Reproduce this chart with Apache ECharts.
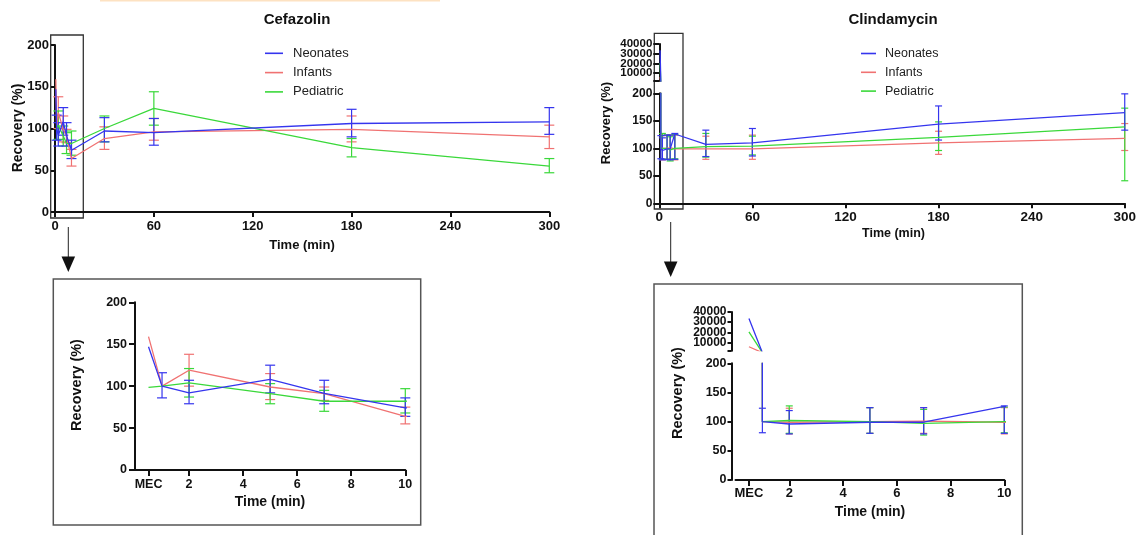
<!DOCTYPE html>
<html>
<head>
<meta charset="utf-8">
<script src="https://cdn.jsdelivr.net/npm/echarts@6/dist/echarts.min.js"></script>
<style>
  html, body { margin: 0; padding: 0; background: #fff; }
  #chart { width: 1139px; height: 535px; }
</style>
</head>
<body>
<div id="chart"></div>
<script>
// 采样时间（min），MEC 在放大图中画在 0.5 处
const TIMES = [0.5, 1, 2, 5, 7, 10, 30, 60, 180, 300];
const GROUPS = ["Neonates", "Infants", "Pediatric"];
const MAIN_TICKS = [0, 60, 120, 180, 240, 300];
const INSET_TICKS = [0.5, 2, 4, 6, 8, 10];
const UPPER_MIN = 2000;
const UPPER_TICKS = [10000, 20000, 30000, 40000];

// Cefazolin 回收率 (%) 与误差棒上下限
const cefNeo = [147, 100, 92, 108, 91.5, 74, 97, 95, 106, 108];
const cefNeoLo = [null, 86, 79, 92, 79, 64, 84, 80, 90, 93];
const cefNeoHi = [null, 116, 107, 125, 107, 86, 113, 112, 123, 125];
const cefInf = [159, 100, 119, 99, 91, 64, 88, 96, 99, 90];
const cefInfLo = [null, null, 100, 84, 83, 55, 75, 86, 84, 76];
const cefInfHi = [null, null, 138, 115, 99, 75, 102, 112, 115, 104];
const cefPed = [98.6, 100, 104, 91, 82, 82, 100, 124, 77, 55];
const cefPedLo = [null, null, 87, 79, 70, 68, 84, 104, 66, 47];
const cefPedHi = [null, null, 121, 103, 95, 97, 115, 144, 88, 64];

// Clindamycin 回收率 (%) 与误差棒上下限
const clnNeo = [33600, 100, 96, 99, 99, 126, 107, 110, 144, 165];
const clnNeoLo = [null, 81, 79, 80, 79, 80, 85, 86, 115, 133];
const clnNeoHi = [null, 123, 119, 124, 124, 127, 133, 136, 177, 199];
const clnInf = [5900, 100, 99, 100, 101, 99, 99, 99, 110, 118];
const clnInfLo = [null, null, 79, 80, 80, 79, 80, 80, 89, 96];
const clnInfHi = [null, null, 123, 124, 124, 124, 122, 124, 131, 145];
const clnPed = [20500, 100, 102, 100, 97, 100, 103, 104, 120, 139];
const clnPedLo = [null, null, 80, 80, 77, 81, 84, 88, 96, 41];
const clnPedHi = [null, null, 127, 124, 121, 125, 127, 122, 148, 173];

const COLORS = { Neonates: "#3535ee", Infants: "#f07272", Pediatric: "#3ad83a" };
const FONT = '"Liberation Sans", Arial, sans-serif';
const INK = "#111";

const CEF = {
  Neonates: [cefNeo, cefNeoLo, cefNeoHi],
  Infants: [cefInf, cefInfLo, cefInfHi],
  Pediatric: [cefPed, cefPedLo, cefPedHi],
};
const CLN = {
  Neonates: [clnNeo, clnNeoLo, clnNeoHi],
  Infants: [clnInf, clnInfLo, clnInfHi],
  Pediatric: [clnPed, clnPedLo, clnPedHi],
};

const grids = [
  { left: 55, top: 45, width: 494.3, height: 167 },      // 0 Cefazolin
  { left: 135, top: 302.3, width: 270.3, height: 167.7 }, // 1 Cefazolin 放大
  { left: 659.3, top: 93.3, width: 468.4, height: 110 },  // 2 Clindamycin 下段
  { left: 659.3, top: 44, width: 468.4, height: 37 },     // 3 Clindamycin 上段
  { left: 735.5, top: 363.3, width: 268.8, height: 116.7 }, // 4 放大 下段
  { left: 735.5, top: 312, width: 268.8, height: 38.7 },  // 5 放大 上段
];

function axisLine() {
  return { show: true, onZero: false, lineStyle: { color: INK, width: 2 } };
}
function axisTick(len, extra) {
  return Object.assign({ show: true, length: len, lineStyle: { color: INK, width: 2 } }, extra || {});
}
function label(size, margin, extra) {
  return Object.assign({ color: INK, fontWeight: "bold", fontSize: size, fontFamily: FONT, margin }, extra || {});
}

// 断轴上段刻度太密，标签会被自动隐藏；拆成两根重叠的轴，各画隔一个的标签
function upperAxes(grid, size, margin, tickLen, offset) {
  const common = { gridIndex: grid, type: "value", position: "left", min: UPPER_MIN, max: 40000, offset,
    splitLine: { show: false } };
  const odd = UPPER_TICKS.filter((v, i) => i % 2 === 0);
  const even = UPPER_TICKS.filter((v, i) => i % 2 === 1);
  return [
    Object.assign({}, common, {
      axisLine: axisLine(),
      axisTick: axisTick(tickLen, { customValues: [UPPER_MIN].concat(UPPER_TICKS) }),
      axisLabel: label(size, margin, { customValues: odd, showMinLabel: true, showMaxLabel: true, formatter: (v) => String(v) }),
    }),
    Object.assign({}, common, {
      axisLine: { show: false }, axisTick: { show: false },
      axisLabel: label(size, margin, { customValues: even, showMinLabel: true, showMaxLabel: true, formatter: (v) => String(v) }),
    }),
  ];
}

const xAxes = [
  { gridIndex: 0, type: "value", min: 0, max: 300, interval: 60,
    axisLine: axisLine(), axisTick: axisTick(5), axisLabel: label(13, 8), splitLine: { show: false } },
  { gridIndex: 1, type: "value", min: 0, max: 10,
    axisLine: axisLine(), axisTick: axisTick(6, { customValues: INSET_TICKS }),
    axisLabel: label(12.5, 8, { customValues: INSET_TICKS, formatter: (v) => (v === 0.5 ? "MEC" : String(v)) }),
    splitLine: { show: false } },
  { gridIndex: 2, type: "value", min: 0, max: 300, interval: 60,
    axisLine: axisLine(), axisTick: axisTick(5), axisLabel: label(13.5, 7), splitLine: { show: false } },
  { gridIndex: 3, type: "value", min: 0, max: 300, show: false },
  { gridIndex: 4, type: "value", min: 0, max: 10,
    axisLine: axisLine(), axisTick: axisTick(6, { customValues: INSET_TICKS }),
    axisLabel: label(13, 7, { customValues: INSET_TICKS, formatter: (v) => (v === 0.5 ? "MEC" : String(v)) }),
    splitLine: { show: false } },
  { gridIndex: 5, type: "value", min: 0, max: 10, show: false },
];

// yAxis 下标与 grid 下标一致，额外的标签轴放在末尾
const yAxes = [
  { gridIndex: 0, type: "value", min: 0, max: 200, interval: 50,
    axisLine: axisLine(), axisTick: axisTick(4), axisLabel: label(13, 6), splitLine: { show: false } },
  { gridIndex: 1, type: "value", min: 0, max: 200, interval: 50,
    axisLine: axisLine(), axisTick: axisTick(6), axisLabel: label(12.5, 8), splitLine: { show: false } },
  { gridIndex: 2, type: "value", min: 0, max: 200, interval: 50,
    axisLine: axisLine(), axisTick: axisTick(6), axisLabel: label(12, 7), splitLine: { show: false } },
];
const upperMain = upperAxes(3, 11.5, 7, 6, 0);
const upperInset = upperAxes(5, 12, 5, 4, 4);
yAxes.push(upperMain[0]);
yAxes.push({ gridIndex: 4, type: "value", min: 0, max: 200, interval: 50, offset: 4,
  axisLine: axisLine(), axisTick: axisTick(4), axisLabel: label(12.5, 5), splitLine: { show: false } });
yAxes.push(upperInset[0]);
yAxes.push(upperMain[1], upperInset[1]);

function lineSeries(name, idx, vals) {
  const color = COLORS[name];
  return {
    type: "line", name, xAxisIndex: idx, yAxisIndex: idx,
    symbol: "none", showSymbol: false, clip: true, animation: false,
    lineStyle: { color, width: 1.3 }, itemStyle: { color },
    data: TIMES.map((t, i) => [t, vals[i]]),
  };
}

function errorBars(name, idx, lo, hi, cap, xMax) {
  const color = COLORS[name];
  const data = [];
  TIMES.forEach((t, i) => { if (lo[i] != null && t <= xMax) data.push([t, lo[i], hi[i]]); });
  return {
    type: "custom", name, xAxisIndex: idx, yAxisIndex: idx, clip: false, silent: true, animation: false,
    itemStyle: { color },
    encode: { x: 0, y: [1, 2] },
    renderItem: (params, api) => {
      const x = api.value(0);
      const top = api.coord([x, api.value(2)]);
      const bot = api.coord([x, api.value(1)]);
      const style = { stroke: color, lineWidth: 1.2, fill: null };
      return {
        type: "group",
        children: [
          { type: "line", shape: { x1: top[0], y1: top[1], x2: bot[0], y2: bot[1] }, style },
          { type: "line", shape: { x1: top[0] - cap, y1: top[1], x2: top[0] + cap, y2: top[1] }, style },
          { type: "line", shape: { x1: bot[0] - cap, y1: bot[1], x2: bot[0] + cap, y2: bot[1] }, style },
        ],
      };
    },
    data,
  };
}

// 红、绿先画，蓝色在最上层
const ORDER = ["Infants", "Pediatric", "Neonates"];
const series = [];
function addPanel(src, idx, cap, xMax, withBars) {
  ORDER.forEach((g) => {
    const [vals, lo, hi] = src[g];
    if (withBars) series.push(errorBars(g, idx, lo, hi, cap, xMax));
    series.push(lineSeries(g, idx, vals));
  });
}
addPanel(CEF, 0, 5, 300, true);
addPanel(CEF, 1, 5, 10, true);
addPanel(CLN, 2, 3.5, 300, true);
addPanel(CLN, 3, 3.5, 300, false);
addPanel(CLN, 4, 3.5, 10, true);
addPanel(CLN, 5, 3.5, 10, false);

function legend(left, top, w, size, gap, pad) {
  return {
    orient: "vertical", left, top, padding: 0, icon: "rect",
    itemWidth: w, itemHeight: 1.6, itemGap: gap, selectedMode: false,
    textStyle: { color: "#222", fontSize: size, fontFamily: FONT, lineHeight: size, padding: [0, 0, 0, pad] },
    data: GROUPS.map((n) => ({ name: n, itemStyle: { color: COLORS[n] } })),
  };
}

function text(str, x, y, size, rotate) {
  return {
    type: "text", x, y, rotation: rotate ? Math.PI / 2 : 0, silent: true,
    style: { text: str, fill: INK, font: `bold ${size}px ${FONT}`, align: "center", verticalAlign: "middle" },
  };
}
function box(x1, y1, x2, y2, color, w) {
  return { type: "rect", silent: true, shape: { x: x1, y: y1, width: x2 - x1, height: y2 - y1 },
    style: { fill: null, stroke: color, lineWidth: w } };
}
function arrow(x, y1, y2) {
  return [
    { type: "line", silent: true, shape: { x1: x, y1, x2: x, y2: y2 - 12 }, style: { stroke: "#222", lineWidth: 1 } },
    { type: "polygon", silent: true, shape: { points: [[x - 6.8, y2 - 15.5], [x + 6.8, y2 - 15.5], [x, y2]] },
      style: { fill: "#111" } },
  ];
}

const graphic = [
  { type: "rect", silent: true, shape: { x: 100, y: 0, width: 340, height: 1.6 }, style: { fill: "#fde2c2" } },
  text("Cefazolin", 297, 20, 15),
  text("Clindamycin", 893, 20, 15),
  text("Recovery (%)", 18, 128, 14, true),
  text("Recovery (%)", 606.7, 123, 13, true),
  text("Time (min)", 302, 245, 13),
  text("Time (min)", 893.5, 234, 12.5),
  text("Recovery (%)", 76.7, 385, 14.5, true),
  text("Time (min)", 270, 502, 14),
  text("Recovery (%)", 678.3, 393, 14.5, true),
  text("Time (min)", 870, 512.3, 14),
  box(50.7, 35, 83.3, 218, "#333", 1.3),
  box(654.3, 33.3, 683, 209, "#333", 1.3),
  box(53.3, 279, 420.7, 525, "#555", 1.5),
  box(654, 284, 1022.3, 545, "#555", 1.5),
].concat(arrow(68.3, 227, 272), arrow(670.7, 222, 277));

const chart = echarts.init(document.getElementById("chart"));
chart.setOption({
  animation: false,
  backgroundColor: "#fff",
  grid: grids,
  xAxis: xAxes,
  yAxis: yAxes,
  legend: [legend(265, 46.8, 18, 13, 6.3, 5), legend(861, 47, 15, 12.5, 5.8, 4)],
  series,
  graphic,
});
</script>
</body>
</html>
